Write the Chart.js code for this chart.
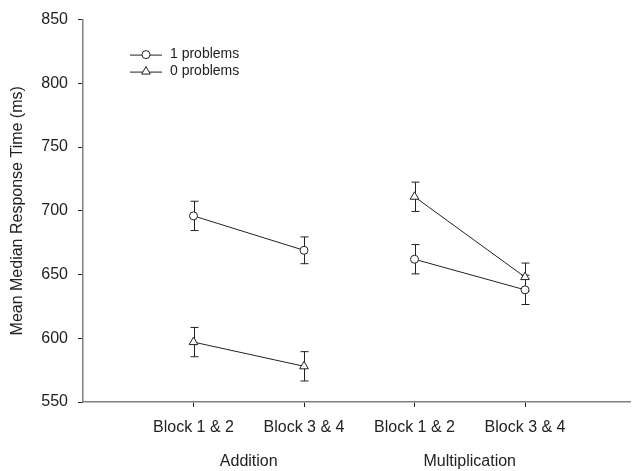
<!DOCTYPE html>
<html>
<head>
<meta charset="utf-8">
<script src="https://cdn.jsdelivr.net/npm/chart.js@4.4.1/dist/chart.umd.min.js"></script>
<style>
    html, body { margin: 0; padding: 0; background: #fff; }
    #wrap { width: 636px; height: 471px; }
</style>
</head>
<body>
<div id="wrap"><canvas id="chart" width="636" height="471"></canvas></div>
<script>
// data
const blockLabels = ['Block 1 & 2', 'Block 3 & 4', 'Block 1 & 2', 'Block 3 & 4'];
const groupLabels = ['Addition', 'Multiplication'];
const positions = [1, 2, 3, 4];
const oneProblems = [696, 669, 662, 638];
const oneErrors = [11.5, 10.5, 11.5, 11.5];
const zeroProblems = [597, 578, 711, 648];
const zeroErrors = [11.5, 11.5, 11.5, 11];
const yTicks = [550, 600, 650, 700, 750, 800, 850];

const ink = '#222';

Chart.defaults.font.family = 'Arial, "Liberation Sans", sans-serif';
Chart.defaults.font.size = 16;
Chart.defaults.color = ink;

const toPoints = vals => vals.map((v, i) => ({ x: positions[i], y: v }));

// no line between the two task groups
const gapSegment = {
    borderColor: c => (c.p0DataIndex === 1 ? 'transparent' : ink)
};

const errorBars = {
    id: 'errorBars',
    beforeDatasetsDraw(chart) {
        const { ctx, scales: { x, y } } = chart;
        ctx.save();
        ctx.strokeStyle = ink;
        ctx.lineWidth = 1;
        chart.data.datasets.forEach(ds => {
            ds.data.forEach((p, i) => {
                const e = ds.errors[i];
                const px = Math.round(x.getPixelForValue(p.x)) + 0.5;
                const top = y.getPixelForValue(p.y + e);
                const bot = y.getPixelForValue(p.y - e);
                ctx.beginPath();
                ctx.moveTo(px, top); ctx.lineTo(px, bot);
                ctx.moveTo(px - 4, top); ctx.lineTo(px + 4, top);
                ctx.moveTo(px - 4, bot); ctx.lineTo(px + 4, bot);
                ctx.stroke();
            });
        });
        ctx.restore();
    }
};

const extras = {
    id: 'extras',
    afterDraw(chart) {
        const { ctx, chartArea, scales: { x } } = chart;
        ctx.save();
        // group captions under the block labels
        ctx.fillStyle = ink;
        ctx.font = '16px Arial, "Liberation Sans", sans-serif';
        ctx.textAlign = 'center';
        ctx.textBaseline = 'middle';
        groupLabels.forEach((g, i) => {
            const cx = (x.getPixelForValue(positions[i * 2]) + x.getPixelForValue(positions[i * 2 + 1])) / 2;
            ctx.fillText(g, cx, 462);
        });

        // legend, top left
        ctx.font = '14px Arial, "Liberation Sans", sans-serif';
        ctx.textAlign = 'left';
        chart.data.datasets.forEach((ds, i) => {
            const ly = chartArea.top + 35 + i * 17;
            const lx = chartArea.left + 47;
            ctx.strokeStyle = ink;
            ctx.lineWidth = 1;
            ctx.beginPath();
            ctx.moveTo(lx, ly + 0.5); ctx.lineTo(lx + 32, ly + 0.5);
            ctx.stroke();
            ctx.fillStyle = '#fff';
            Chart.helpers.drawPoint(ctx, {
                pointStyle: ds.pointStyle, radius: ds.pointRadius, rotation: 0, borderWidth: 1
            }, lx + 16, ly);
            ctx.fillStyle = ink;
            ctx.fillText(ds.label, lx + 40, ly);
        });
        ctx.restore();
    }
};

new Chart(document.getElementById('chart'), {
    type: 'line',
    data: {
        datasets: [
            {
                label: '1 problems',
                data: toPoints(oneProblems),
                errors: oneErrors,
                pointStyle: 'circle',
                pointRadius: 4,
                borderColor: ink,
                borderWidth: 1,
                pointBackgroundColor: '#fff',
                pointBorderColor: ink,
                pointBorderWidth: 1,
                segment: gapSegment
            },
            {
                label: '0 problems',
                data: toPoints(zeroProblems),
                errors: zeroErrors,
                pointStyle: 'triangle',
                pointRadius: 5,
                borderColor: ink,
                borderWidth: 1,
                pointBackgroundColor: '#fff',
                pointBorderColor: ink,
                pointBorderWidth: 1,
                segment: gapSegment
            }
        ]
    },
    options: {
        responsive: false,
        animation: false,
        layout: { padding: { top: 18, right: 0, left: 0, bottom: 0 } },
        plugins: {
            legend: { display: false },
            tooltip: { enabled: false }
        },
        scales: {
            x: {
                type: 'linear',
                min: 0,
                max: 4.95,
                afterBuildTicks: scale => { scale.ticks = positions.map(v => ({ value: v })); },
                afterFit: scale => { scale.height = 69; },
                ticks: {
                    autoSkip: false,
                    maxRotation: 0,
                    padding: 11,
                    callback: v => blockLabels[positions.indexOf(v)]
                },
                grid: { drawOnChartArea: false, drawTicks: true, tickLength: 5, tickColor: ink },
                border: { color: '#808080', width: 1.5 }
            },
            y: {
                min: 550,
                max: 850,
                afterBuildTicks: scale => { scale.ticks = yTicks.map(v => ({ value: v })); },
                afterFit: scale => { scale.width = 83; },
                ticks: { padding: 10 },
                grid: { drawOnChartArea: false, drawTicks: true, tickLength: 5, tickColor: ink },
                border: { color: '#808080', width: 1.5 },
                title: {
                    display: true,
                    text: 'Mean Median Response Time (ms)',
                    padding: { top: 8, bottom: 0 },
                    font: { size: 16 }
                }
            }
        }
    },
    plugins: [errorBars, extras]
});
</script>
</body>
</html>
